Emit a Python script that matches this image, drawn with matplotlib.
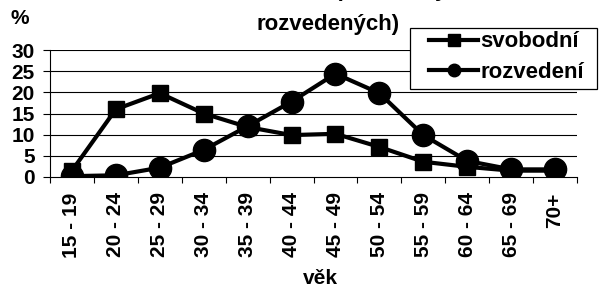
import numpy as np
import matplotlib.pyplot as plt
from matplotlib.patches import Rectangle

# data
vek = ['15 - 19', '20 - 24', '25 - 29', '30 - 34', '35 - 39', '40 - 44',
       '45 - 49', '50 - 54', '55 - 59', '60 - 64', '65 - 69', '70+']
svobodni = [1.5, 16.0, 19.8, 15.0, 11.8, 9.9, 10.2, 7.1, 3.6, 2.4, 1.5, 1.5]
rozvedeni = [0.2, 0.4, 2.2, 6.4, 12.0, 17.8, 24.4, 19.8, 9.9, 3.8, 1.8, 1.8]

plt.rcParams['font.family'] = ['Liberation Sans', 'DejaVu Sans']
plt.rcParams['font.weight'] = 'bold'

W, H = 599, 287
fig = plt.figure(figsize=(W / 100, H / 100), dpi=100)
ax = fig.add_axes([50 / W, 1 - 177 / H, 527 / W, 127 / H])

x = np.arange(len(vek))
ax.plot(x, svobodni, color='black', lw=3, marker='s', ms=12, label='svobodní', zorder=3)
ax.plot(x, rozvedeni, color='black', lw=3, marker='o', ms=16, label='rozvedení', zorder=4)

ax.set_xlim(-0.5, len(vek) - 0.5)
ax.set_ylim(0, 30)
ax.set_yticks(range(0, 31, 5))
ax.set_yticklabels([str(v) for v in range(0, 31, 5)], fontsize=15, fontweight='bold')
ax.set_xticks(x)
ax.set_xticklabels(vek, rotation=90, fontsize=15, fontweight='bold')
ax.set_xticks(np.arange(-0.5, len(vek)), minor=True)
ax.tick_params(axis='x', which='major', length=0, pad=11)
ax.tick_params(axis='x', which='minor', length=4.5, width=0.8, direction='out')
ax.tick_params(axis='y', length=5, width=0.8, pad=6)

for v in range(5, 31, 5):
    ax.axhline(v, color='black', lw=0.8, zorder=1)
for s in ['top', 'right']:
    ax.spines[s].set_visible(False)
ax.spines['left'].set_linewidth(0.8)
ax.spines['bottom'].set_linewidth(0.8)

fig.text(320 / W, 1 - 279 / H, 'věk', fontsize=15, fontweight='bold', ha='center', va='center')
fig.text(20 / W, 1 - 19 / H, '%', fontsize=15, fontweight='bold', ha='center', va='center')

# title: first line is cut off by the top edge, as in the reference
fig.text(320 / W, 1 + 4 / H, 'Věková struktura (svobodných a',
         fontsize=16, fontweight='bold', ha='center', va='baseline')
fig.text(328 / W, 1 - 30 / H, 'rozvedených)',
         fontsize=16, fontweight='bold', ha='center', va='baseline')

# legend box
fig.patches.append(Rectangle((410 / W, 1 - 89 / H), 187 / W, 61 / H,
                             transform=fig.transFigure, facecolor='white',
                             edgecolor='black', lw=0.9, zorder=5))
leg = fig.legend(loc='upper left', bbox_to_anchor=(426 / W, 1 - 28 / H),
                 frameon=False, handlelength=2.2, borderpad=0.15,
                 labelspacing=0.42, handletextpad=0.1, borderaxespad=0,
                 prop={'weight': 'bold', 'size': 16})
leg.set_zorder(6)
for h in leg.legend_handles:
    h.set_markersize(9)

fig.savefig('out.png', dpi=100)
